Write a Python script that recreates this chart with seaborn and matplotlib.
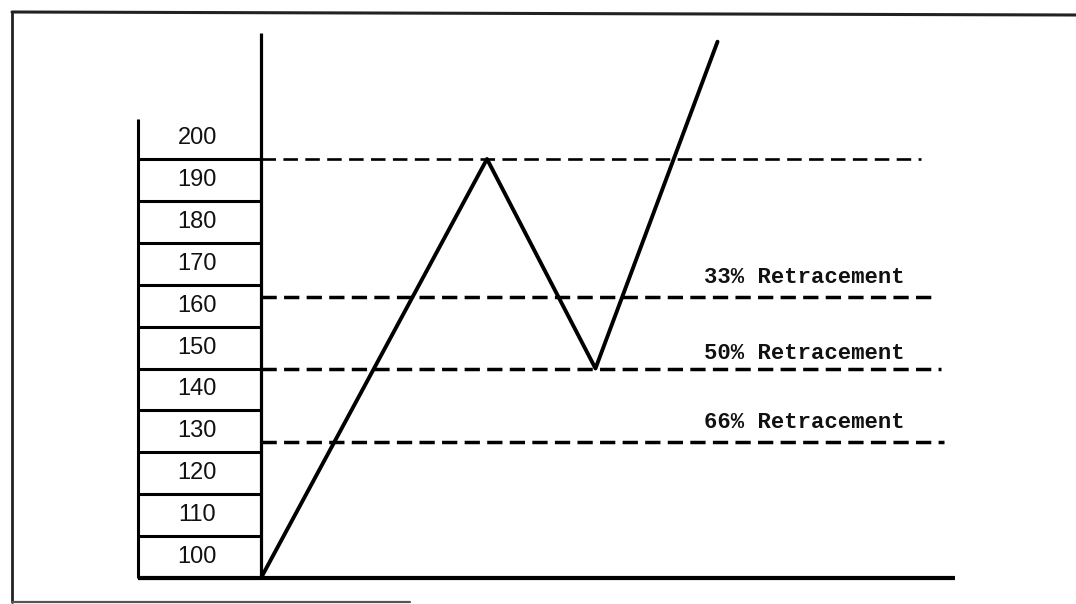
import matplotlib
matplotlib.use("Agg")
import matplotlib.pyplot as plt
import seaborn as sns
import pandas as pd
from matplotlib.lines import Line2D

# ---- data ----
times = [0, 10, 14.8, 20.2]          # swing points (time units)
prices = [100, 200, 150, 228]        # swing prices
ladder_labels = ["100", "110", "120", "130", "140", "150", "160", "170", "180", "190", "200"]
ladder_bounds = [100, 110, 120, 130, 140, 150, 160, 170, 180, 190, 200]
retr_levels = [200, 167.0, 149.8, 132.5]
retr_ends = [29.2, 29.8, 30.1, 30.2]
retr_labels = ["33% Retracement", "50% Retracement", "66% Retracement"]
retr_label_prices = [171.6, 153.5, 137.0]

sns.set_style("white")
plt.rcParams["font.family"] = ["Liberation Sans", "DejaVu Sans"]

W, H = 1076, 604
fig = plt.figure(figsize=(W / 100, H / 100), dpi=100)
ax = fig.add_axes([0, 0, 1, 1])

px_per_t = 22.6
px_per_p = 4.19
x0_px, y0_px = 261, 578
ax.set_xlim(-x0_px / px_per_t, (W - x0_px) / px_per_t)
ax.set_ylim(100 - (H - y0_px) / px_per_p, 100 + y0_px / px_per_p)
ax.axis("off")

# zigzag
df = pd.DataFrame({"t": times, "price": prices})
sns.lineplot(data=df, x="t", y="price", ax=ax, color="black", lw=2.8,
             sort=False, estimator=None)

# ladder
ladder_left = -5.44
ax.hlines(ladder_bounds, ladder_left, 0, color="black", lw=2.2)
ax.vlines(ladder_left, 100, 209.5, color="black", lw=2.2)
ax.vlines(0, 100, 230, color="black", lw=2.3)
ax.hlines(100, ladder_left, 30.7, color="black", lw=3.0)
for lab, b in zip(ladder_labels, ladder_bounds):
    ax.text(ladder_left / 2 - 0.1, b + 5, lab, ha="center", va="center",
            fontsize=17, color="#111111", family=["Liberation Sans", "DejaVu Sans"])

# retracement levels
for i, (lvl, end) in enumerate(zip(retr_levels, retr_ends)):
    lw = 1.9 if i == 0 else 2.5
    ax.hlines(lvl, 0, end, color="black", lw=lw,
              linestyles=[(0, (4.4, 2.1))] if i else [(0, (5.5, 2.8))])
for lab, p in zip(retr_labels, retr_label_prices):
    ax.text(19.6, p, lab, ha="left", va="center", fontsize=16,
            fontweight="bold", color="#111111",
            family=["Liberation Mono", "DejaVu Sans Mono"])

# outer frame (scanned border)
def fx(px):
    return px / W

def fy(py):
    return 1 - py / H

fig.add_artist(Line2D([fx(12), fx(12)], [fy(12), fy(602)], color="#222222", lw=2.0,
                      transform=fig.transFigure))
fig.add_artist(Line2D([fx(12), fx(1076)], [fy(12), fy(15)], color="#222222", lw=2.2,
                      transform=fig.transFigure))
fig.add_artist(Line2D([fx(12), fx(410)], [fy(602), fy(602)], color="#555555", lw=1.6,
                      transform=fig.transFigure))

fig.savefig("out.png", dpi=100)
